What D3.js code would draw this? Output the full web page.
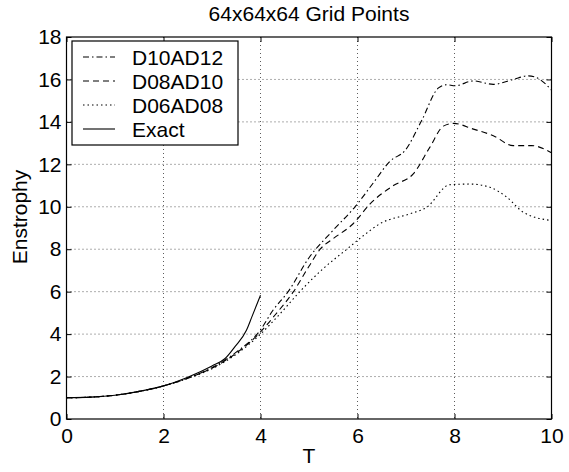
<!DOCTYPE html>
<html>
<head>
<meta charset="utf-8">
<script src="https://cdn.jsdelivr.net/npm/d3@7"></script>
<style>
  body { margin: 0; background: #fff; }
  svg text { font-family: "Liberation Sans", Arial, Helvetica, sans-serif; fill: #000; }
</style>
</head>
<body>
<div id="chart"></div>
<script>
// ---- data ----
const xTicks = [0, 2, 4, 6, 8, 10];
const yTicks = [0, 2, 4, 6, 8, 10, 12, 14, 16, 18];

const tD10 = [0, 0.5, 1, 1.5, 2, 2.5, 3, 3.5, 4, 4.25, 4.57, 5, 5.5, 5.95, 6.35, 6.67, 6.98, 7.32, 7.67, 7.84, 8.01, 8.39, 8.8, 9.21, 9.52, 9.76, 10];
const vD10 = [1, 1.03, 1.12, 1.3, 1.56, 1.93, 2.42, 3.15, 4.2, 5.1, 6.0, 7.6, 8.9, 10.0, 11.2, 12.15, 12.65, 14.05, 15.6, 15.75, 15.7, 15.93, 15.77, 16.0, 16.17, 16.0, 15.5];

const tD08 = [0, 0.5, 1, 1.5, 2, 2.5, 3, 3.5, 4, 4.3, 4.68, 5, 5.23, 5.5, 5.91, 6.26, 6.74, 7.15, 7.49, 7.77, 7.98, 8.39, 8.8, 9.21, 9.59, 10];
const vD08 = [1, 1.03, 1.12, 1.3, 1.56, 1.92, 2.4, 3.1, 4.1, 4.9, 6.0, 7.2, 8.0, 8.5, 9.2, 10.14, 11.0, 11.55, 12.8, 13.8, 13.93, 13.66, 13.35, 12.88, 12.88, 12.55];

const tD06 = [0, 0.5, 1, 1.5, 2, 2.5, 3, 3.5, 4, 4.4, 4.81, 5.3, 5.78, 6.1, 6.46, 7.08, 7.43, 7.9, 8.32, 8.73, 9.08, 9.42, 10];
const vD06 = [1, 1.03, 1.12, 1.3, 1.56, 1.91, 2.37, 3.05, 4.0, 4.95, 6.0, 7.1, 8.0, 8.6, 9.2, 9.67, 9.98, 11.04, 11.07, 10.92, 10.45, 9.74, 9.35];

const tExact = [0, 0.5, 1, 1.5, 2, 2.5, 3, 3.27, 3.47, 3.71, 3.82, 4];
const vExact = [1, 1.03, 1.12, 1.3, 1.56, 1.97, 2.5, 2.85, 3.4, 4.18, 4.8, 5.83];

const seriesNames = ['D10AD12', 'D08AD10', 'D06AD08', 'Exact'];
const seriesDash = ['6,3,1.5,3', '6,4', '1.5,3', null];

const series = [
  { name: seriesNames[0], t: tD10, v: vD10, dash: seriesDash[0] },
  { name: seriesNames[1], t: tD08, v: vD08, dash: seriesDash[1] },
  { name: seriesNames[2], t: tD06, v: vD06, dash: seriesDash[2] },
  { name: seriesNames[3], t: tExact, v: vExact, dash: seriesDash[3] },
];

// ---- layout ----
const W = 569, H = 472;
const margin = { top: 37, right: 17.5, bottom: 53, left: 66.5 };
const iw = W - margin.left - margin.right;
const ih = H - margin.top - margin.bottom;
const FS = 21;

const svg = d3.select('#chart').append('svg')
  .attr('width', W).attr('height', H);

const g = svg.append('g').attr('transform', `translate(${margin.left},${margin.top})`);

const x = d3.scaleLinear().domain([0, 10]).range([0, iw]);
const y = d3.scaleLinear().domain([0, 18]).range([ih, 0]);

// grid
const grid = g.append('g').attr('stroke', '#000').attr('stroke-width', 0.8)
  .attr('stroke-dasharray', '1,3').attr('opacity', 0.8);
grid.selectAll('.gx').data(xTicks.slice(1, -1)).join('line')
  .attr('x1', d => x(d)).attr('x2', d => x(d)).attr('y1', 0).attr('y2', ih);
grid.selectAll('.gy').data(yTicks.slice(1, -1)).join('line')
  .attr('y1', d => y(d)).attr('y2', d => y(d)).attr('x1', 0).attr('x2', iw);

// lines
const line = d3.line().curve(d3.curveMonotoneX);
series.forEach(s => {
  g.append('path')
    .attr('d', line(s.t.map((t, i) => [x(t), y(s.v[i])])))
    .attr('fill', 'none').attr('stroke', '#000').attr('stroke-width', 1.1)
    .attr('stroke-dasharray', s.dash);
});

// axes (ticks point inward, box on)
const styleAxis = sel => {
  sel.select('.domain').remove();
  sel.selectAll('line').attr('stroke', '#000');
  sel.selectAll('text').attr('font-size', FS).attr('font-family', 'Liberation Sans, Arial, sans-serif');
};
g.append('g').attr('transform', `translate(0,${ih})`)
  .call(d3.axisBottom(x).tickValues(xTicks).tickSize(-5).tickPadding(9))
  .call(styleAxis);
g.append('g')
  .call(d3.axisLeft(y).tickValues(yTicks).tickSize(-5).tickPadding(5))
  .call(styleAxis);
g.append('g')
  .call(d3.axisTop(x).tickValues(xTicks).tickSize(-5).tickFormat(''))
  .call(styleAxis);
g.append('g').attr('transform', `translate(${iw},0)`)
  .call(d3.axisRight(y).tickValues(yTicks).tickSize(-5).tickFormat(''))
  .call(styleAxis);
g.append('rect').attr('width', iw).attr('height', ih)
  .attr('fill', 'none').attr('stroke', '#000').attr('stroke-width', 1.2);

// titles
svg.append('text').attr('x', margin.left + iw / 2).attr('y', 21)
  .attr('text-anchor', 'middle').attr('font-size', FS).text('64x64x64 Grid Points');
svg.append('text').attr('x', margin.left + iw / 2).attr('y', 463)
  .attr('text-anchor', 'middle').attr('font-size', FS).text('T');
svg.append('text').attr('transform', 'translate(27,217) rotate(-90)')
  .attr('text-anchor', 'middle').attr('font-size', FS).text('Enstrophy');

// legend
const lg = svg.append('g').attr('transform', 'translate(72,41)');
lg.append('rect').attr('width', 166).attr('height', 104)
  .attr('fill', '#fff').attr('stroke', '#000').attr('stroke-width', 1.2);
series.forEach((s, i) => {
  const ry = 16 + i * 24;
  lg.append('line').attr('x1', 11).attr('x2', 43).attr('y1', ry).attr('y2', ry)
    .attr('stroke', '#000').attr('stroke-width', 1.1).attr('stroke-dasharray', s.dash);
  lg.append('text').attr('x', 60).attr('y', ry).attr('dy', '0.36em')
    .attr('font-size', FS).text(s.name);
});
</script>
</body>
</html>
